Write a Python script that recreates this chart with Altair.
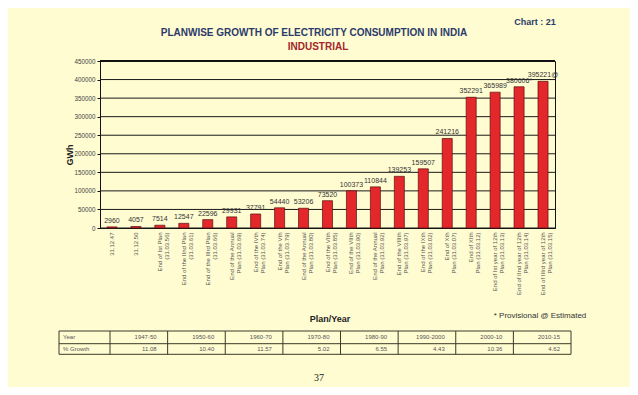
import altair as alt
import pandas as pd

categories = [
    "31.12.47", "31.12.50",
    "End of Ist Plan|(31.03.56)",
    "End of the IInd Plan|(31.03.61)",
    "End of the IIIrd Plan|(31.03.66)",
    "End of the  Annual|Plan (31.03.69)",
    "End of the IVth|Plan (31.03.74)",
    "End of the Vth|Plan (31.03.79)",
    "End of the Annual|Plan (31.03.80)",
    "End of the VIth|Plan (31.03.85)",
    "End of the VIIth|Plan (31.03.90)",
    "End of the Annual|Plan (31.03.92)",
    "End of the VIIIth|Plan (31.03.97)",
    "End of the IXth|Plan (31.03.02)",
    "End of Xth|Plan (31.03.07)",
    "End of XIth|Plan (31.03.12)",
    "End of Ist year of 12th|Plan (31.03.13)",
    "End of IInd year of 12th|Plan (31.03.14)",
    "End of IIIrd year of 12th|Plan (31.03.15)",
]
values = [2960, 4057, 7514, 12547, 22596, 29931, 37791, 54440, 53206, 73520,
          100373, 110844, 139253, 159507, 241216, 352291, 365989, 380606, 395221]
value_labels = ["2960", "4057", "7514", "12547", "22596", "29931", "37791", "54440",
                "53206", "73520", "100373", "110844", "139253", "159507", "241216",
                "352291", "365989", "380606*", "395221@"]
y_ticks = [0, 50000, 100000, 150000, 200000, 250000, 300000, 350000, 400000, 450000]

periods = ["1947-50", "1950-60", "1960-70", "1970-80", "1980-90", "1990-2000", "2000-10", "2010-15"]
growth = ["11.08", "10.40", "11.57", "5.02", "6.55", "4.43", "10.36", "4.62"]

BG = "#FFFCD2"
FONT = "Liberation Sans"

df = pd.DataFrame({"cat": categories, "val": values, "lab": value_labels})
tdf = pd.DataFrame({"period": periods, "growth": growth})
gdf = pd.DataFrame({"val": y_ticks})

W, H = 455, 167

xaxis = alt.Axis(labelAngle=270, labelExpr="split(datum.label, '|')",
                 labelFontSize=6, labelColor="#555", labelFont=FONT,
                 labelLineHeight=7, labelPadding=4, ticks=False,
                 domainColor="#111", labelAlign="right", labelBaseline="middle")
xscale = alt.Scale(paddingInner=0.58, paddingOuter=0.29)
yaxis = alt.Axis(values=y_ticks, tickCount=10, format="d", labelOverlap=False, grid=False,
                 labelFontSize=6.3, labelColor="#444", labelFont=FONT,
                 tickSize=3, tickColor="#111", domainColor="#111", labelPadding=2)
yscale = alt.Scale(domain=[0, 450000], nice=False)

def Y():
    return alt.Y("val:Q", title=None, scale=yscale, axis=yaxis)

def X():
    return alt.X("cat:N", sort=None, title=None, scale=xscale, axis=xaxis)

grid = alt.Chart(gdf).mark_rule(color="#1a1a1a", strokeWidth=1).encode(y=Y())
bars = alt.Chart(df).mark_bar(color="#E3272A", stroke="#5a1010", strokeWidth=0.7).encode(x=X(), y=Y())
vlabels = alt.Chart(df).mark_text(baseline="bottom", dy=-3, fontSize=7, font=FONT, color="#333").encode(
    x=X(), y=Y(), text="lab:N")
toprule = alt.Chart(pd.DataFrame({"val": [450000]})).mark_rule(color="#111", strokeWidth=2).encode(y=Y())
main = alt.layer(grid, bars, vlabels, toprule)

tscale = alt.Scale(domain=periods, range=[10, 471], paddingInner=0, paddingOuter=0)
T0, T1, T2 = 270, 282.7, 293.3
TL, TR = -41, 471
LC = "#3a3a28"

tv = alt.Chart(tdf).mark_rule(color=LC, strokeWidth=1).encode(
    x=alt.X("period:N", sort=None, scale=tscale, axis=None, bandPosition=0),
    y=alt.value(T0), y2=alt.value(T2))
t_year = alt.Chart(tdf).mark_text(align="right", baseline="middle", dx=-11, fontSize=6, font=FONT, color="#555").encode(
    x=alt.X("period:N", sort=None, scale=tscale, axis=None, bandPosition=1),
    y=alt.value((T0 + T1) / 2), text="period:N")
t_growth = alt.Chart(tdf).mark_text(align="right", baseline="middle", dx=-11, fontSize=6, font=FONT, color="#555").encode(
    x=alt.X("period:N", sort=None, scale=tscale, axis=None, bandPosition=1),
    y=alt.value((T1 + T2) / 2), text="growth:N")
table = alt.layer(tv, t_year, t_growth)

one = alt.Data(values=[{}])
def rule(x1, x2, y1, y2):
    return alt.Chart(one).mark_rule(color=LC, strokeWidth=1).encode(
        x=alt.value(x1), x2=alt.value(x2), y=alt.value(y1), y2=alt.value(y2))

def txt(s, x, y, **kw):
    return alt.Chart(one).mark_text(text=s, **kw).encode(x=alt.value(x), y=alt.value(y))

extras = [
    rule(TL, TR, T0, T0), rule(TL, TR, T1, T1), rule(TL, TR, T2, T2),
    rule(TL, TL, T0, T2), rule(TR, TR, T0, T2),
    txt("Year", TL + 4, (T0 + T1) / 2, align="left", baseline="middle", fontSize=6, font=FONT, color="#555"),
    txt("% Growth", TL + 4, (T1 + T2) / 2, align="left", baseline="middle", fontSize=6, font=FONT, color="#555"),
    txt("PLANWISE GROWTH OF ELECTRICITY CONSUMPTION  IN INDIA", 214, -28, align="center", baseline="middle",
        fontSize=10, fontWeight="bold", font=FONT, color="#2B3A6B"),
    txt("INDUSTRIAL", 218, -14, align="center", baseline="middle",
        fontSize=10, fontWeight="bold", font=FONT, color="#A3262A"),
    txt("Chart : 21", 435, -39, align="center", baseline="middle",
        fontSize=9, fontWeight="bold", font=FONT, color="#2B3A6B"),
    txt("GWh", -30, 94, align="center", baseline="middle", angle=270,
        fontSize=9, fontWeight="bold", font=FONT, color="#222"),
    txt("Plan/Year", 230, 258, align="center", baseline="middle",
        fontSize=9, fontWeight="bold", font=FONT, color="#222"),
    txt("* Provisional @ Estimated", 440, 255, align="center", baseline="middle",
        fontSize=8, font=FONT, color="#333"),
    txt("37", 219, 317, align="center", baseline="middle",
        fontSize=10, font="Liberation Serif", color="#222"),
]

chart = alt.layer(main, table, *extras).resolve_scale(x="independent").properties(
    width=W, height=H,
    autosize=alt.AutoSizeParams(type="none"),
    padding={"left": 92, "top": 53, "right": 75, "bottom": 159},
    background=BG,
).configure_view(stroke="#111", strokeWidth=1)

chart.save("out.html", embed_options={"renderer": "svg", "actions": False})
